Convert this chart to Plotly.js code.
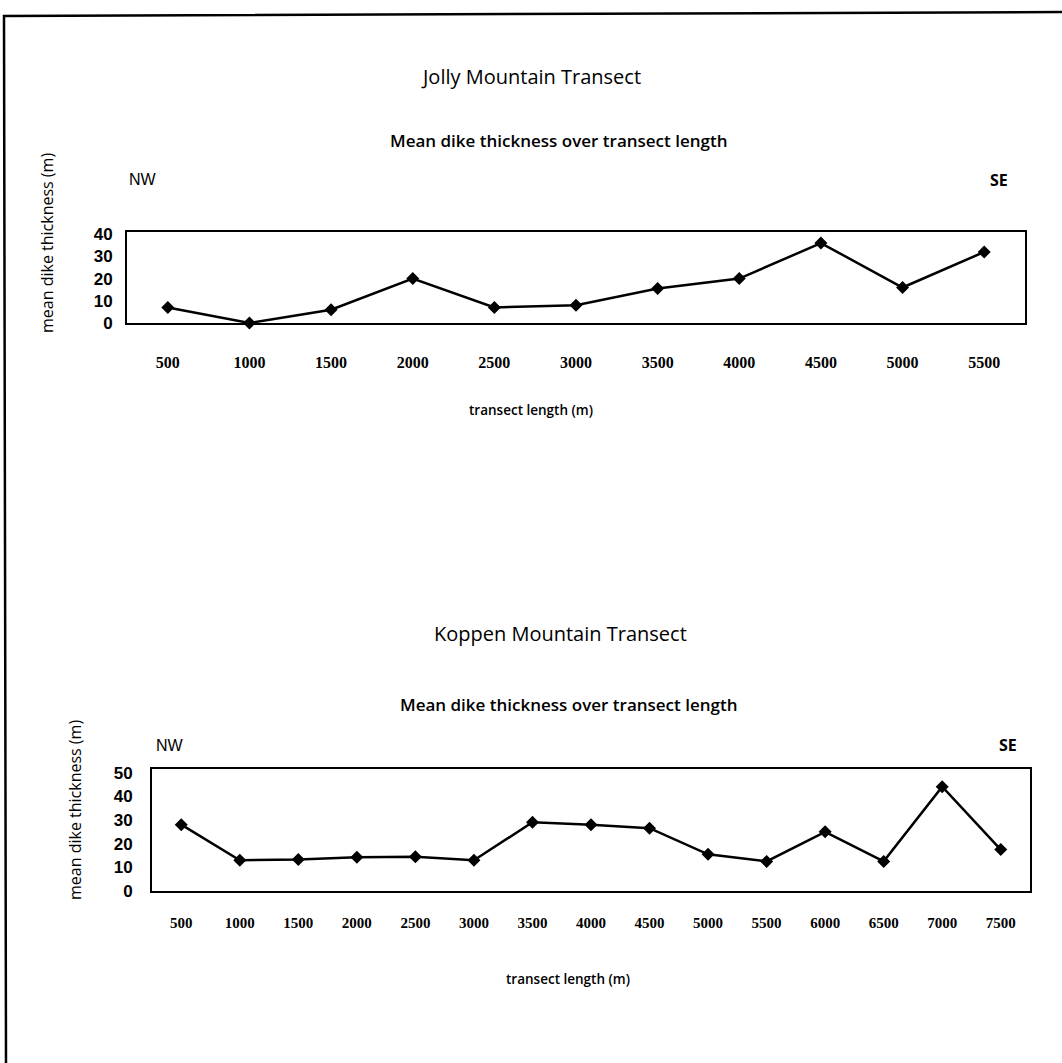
<!DOCTYPE html>
<html>
<head>
<meta charset="utf-8">
<script src="https://cdn.plot.ly/plotly-3.0.1.min.js"></script>
<style>
  html, body { margin: 0; padding: 0; background: #fff; }
  #chart { width: 1062px; height: 1063px; }
</style>
</head>
<body>
<div id="chart"></div>
<script>
// Jolly Mountain transect: mean dike thickness (m) every 500 m
const jollyDistance = ['500', '1000', '1500', '2000', '2500', '3000', '3500', '4000', '4500', '5000', '5500'];
const jollyThickness = [7, 0, 6, 20, 7, 8, 15.5, 20, 36, 16, 32];

// Koppen Mountain transect: mean dike thickness (m) every 500 m
const koppenDistance = ['500', '1000', '1500', '2000', '2500', '3000', '3500', '4000', '4500', '5000', '5500', '6000', '6500', '7000', '7500'];
const koppenThickness = [28, 13, 13.3, 14.2, 14.5, 13, 29, 28, 26.5, 15.5, 12.5, 25, 12.5, 44, 17.5];

const jollyYTicks = [0, 10, 20, 30, 40];
const koppenYTicks = [0, 10, 20, 30, 40, 50];

const W = 1062, H = 1063;
const px = v => v / W;
const py = v => 1 - v / H;

const sansHum = '"Open Sans", "Noto Sans", sans-serif';
const sansArial = '"Liberation Sans", Arial, sans-serif';
const serif = '"Liberation Serif", "Times New Roman", serif';

const lineStyle = { color: '#000', width: 2.5 };
const markerStyle = { symbol: 'diamond', size: 10, color: '#000' };

const traces = [
  {
    x: jollyDistance, y: jollyThickness, xaxis: 'x', yaxis: 'y',
    type: 'scatter', mode: 'lines+markers',
    line: lineStyle, marker: markerStyle, cliponaxis: false, hoverinfo: 'x+y'
  },
  {
    x: koppenDistance, y: koppenThickness, xaxis: 'x2', yaxis: 'y2',
    type: 'scatter', mode: 'lines+markers',
    line: lineStyle, marker: markerStyle, cliponaxis: false, hoverinfo: 'x+y'
  }
];

function xAxis(cats, domain, anchor, fontSize, standoff) {
  return {
    type: 'category', domain: domain, anchor: anchor, range: [-0.5, cats.length - 0.5],
    showgrid: false, zeroline: false, showline: true, mirror: true,
    linecolor: '#000', linewidth: 2, ticks: '',
    tickfont: { family: serif, size: fontSize, color: '#000', weight: 'bold' },
    ticklabelstandoff: standoff, fixedrange: true
  };
}
function yAxis(ticks, domain, anchor, range, standoff) {
  return {
    domain: domain, anchor: anchor, range: range, tickvals: ticks, ticktext: ticks.map(String),
    showgrid: false, zeroline: false, showline: true, mirror: true,
    linecolor: '#000', linewidth: 2, ticks: '',
    tickfont: { family: sansArial, size: 17, color: '#000', weight: 'bold' },
    ticklabelstandoff: standoff, fixedrange: true
  };
}

function label(text, x, y, size, family, weight, extra) {
  return Object.assign({
    text: text, xref: 'paper', yref: 'paper', x: px(x), y: py(y),
    xanchor: 'center', yanchor: 'middle', showarrow: false,
    font: { family: family, size: size, color: '#000', weight: weight || 'normal' }
  }, extra || {});
}

const annotations = [
  label('Jolly Mountain Transect', 531, 77, 20, sansHum, 500),
  label('Mean dike thickness over transect length', 558, 141, 17, sansHum, 600),
  label('NW', 143, 180, 16, sansArial),
  label('SE', 999, 180, 16, sansHum, 'bold'),
  label('mean dike thickness (m)', 47, 243, 16, sansHum, 500, { textangle: -90 }),
  label('transect length (m)', 531, 410, 13.5, sansHum, 600),

  label('Koppen Mountain Transect', 560, 633, 20, sansHum, 500),
  label('Mean dike thickness over transect length', 568, 704, 17, sansHum, 600),
  label('NW', 170, 745, 16, sansArial),
  label('SE', 1008, 745, 16, sansHum, 'bold'),
  label('mean dike thickness (m)', 75, 810, 16, sansHum, 500, { textangle: -90 }),
  label('transect length (m)', 568, 979, 13.5, sansHum, 600)
];

const layout = {
  width: W, height: H,
  margin: { l: 0, r: 0, t: 0, b: 0 },
  paper_bgcolor: '#fff', plot_bgcolor: '#fff',
  showlegend: false,
  xaxis: xAxis(jollyDistance, [px(127), px(1025)], 'y', 16, 24),
  yaxis: yAxis(jollyYTicks, [py(323), py(232)], 'x', [0, 41], 9),
  xaxis2: xAxis(koppenDistance, [px(152), px(1030)], 'y2', 15, 17),
  yaxis2: yAxis(koppenYTicks, [py(891), py(769)], 'x2', [0, 51.5], 14),
  annotations: annotations,
  shapes: [
    {
      type: 'path', xref: 'paper', yref: 'paper',
      path: 'M ' + px(6) + ' ' + py(1063) + ' L ' + px(4) + ' ' + py(16) + ' L ' + px(1062) + ' ' + py(12),
      line: { color: '#000', width: 2.5 }
    }
  ]
};

Plotly.newPlot('chart', traces, layout, { staticPlot: true, displayModeBar: false });
</script>
</body>
</html>
